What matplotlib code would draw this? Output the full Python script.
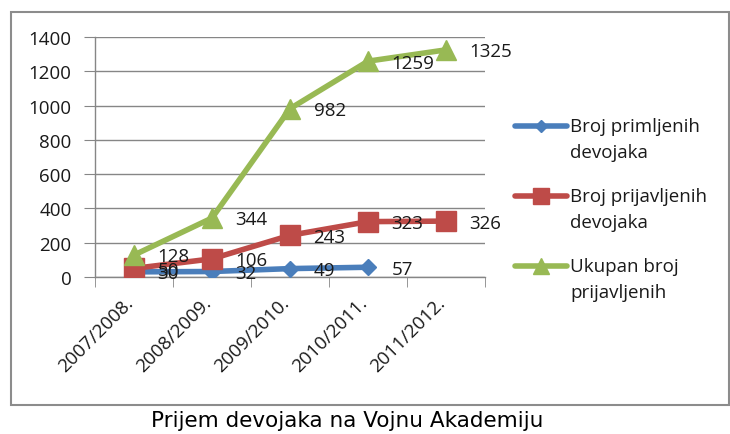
import matplotlib
matplotlib.use("Agg")
import matplotlib.pyplot as plt
import matplotlib.transforms as mtransforms
from matplotlib.lines import Line2D
from matplotlib.patches import Rectangle

plt.rcParams['font.family'] = ['Open Sans', 'DejaVu Sans']

categories = ["2007/2008.", "2008/2009.", "2009/2010.", "2010/2011.", "2011/2012."]
series_names = ["Broj primljenih\ndevojaka", "Broj prijavljenih\ndevojaka", "Ukupan broj\nprijavljenih"]
primljenih = [30, 32, 49, 57]
prijavljenih = [50, 106, 243, 323, 326]
ukupno = [128, 344, 982, 1259, 1325]
yticks = [0, 200, 400, 600, 800, 1000, 1200, 1400]
title = "Prijem devojaka na Vojnu Akademiju"

colors = ["#4a7ebb", "#be4b48", "#98b954"]
markers = ["D", "s", "^"]
msizes = [8, 14, 15]

W, H = 730, 435
fig = plt.figure(figsize=(W / 100, H / 100), dpi=100)

def fx(px):
    return px / W

def fy(py):
    return (H - py) / H

ax = fig.add_axes([fx(95), fy(278), (485 - 95) / W, (278 - 38) / H])

all_series = [primljenih, prijavljenih, ukupno]
for k, vals in enumerate(all_series):
    xs = list(range(len(vals)))
    ax.plot(xs, vals, color=colors[k], lw=4, marker=markers[k], ms=msizes[k],
            mfc=colors[k], mec=colors[k], zorder=3 + k, solid_capstyle='round')
for k, vals in enumerate(all_series):
    for i, v in enumerate(vals):
        ax.annotate(str(v), (i, v), xytext=(17, -1), textcoords='offset points',
                    ha='left', va='center', fontsize=13.5, color='#1a1a1a', zorder=10)

ax.set_xlim(-0.5, len(categories) - 0.5)
ax.set_ylim(0, 1400)
ax.set_yticks(yticks)
ax.set_yticklabels([str(t) for t in yticks], fontsize=13.5, color='#1a1a1a')
ax.set_xticks(range(len(categories)))
ax.set_xticks([i - 0.5 for i in range(len(categories) + 1)], minor=True)
ax.tick_params(axis='x', which='major', length=0, pad=10)
ax.tick_params(axis='x', which='minor', length=7, color='#868686', direction='out')
ax.tick_params(axis='y', length=8, color='#868686', pad=9, direction='out')
ax.set_xticklabels(categories, rotation=45, ha='right', rotation_mode='anchor',
                   fontsize=13.5, color='#1a1a1a')
ax.grid(axis='y', color='#868686', lw=1)
ax.set_axisbelow(True)
for s in ['top', 'right']:
    ax.spines[s].set_visible(False)
for s in ['left', 'bottom']:
    ax.spines[s].set_color('#868686')
    ax.spines[s].set_linewidth(1)

fig.canvas.draw()
shift = mtransforms.ScaledTranslation(-10 / 100, -2 / 100, fig.dpi_scale_trans)
for lab in ax.get_xticklabels():
    lab.set_transform(lab.get_transform() + shift)

# legend
leg_y = [127, 197, 267]
for k, name in enumerate(series_names):
    y = leg_y[k]
    fig.add_artist(Line2D([fx(515), fx(567)], [fy(y), fy(y)], color=colors[k], lw=4,
                          solid_capstyle='round'))
    fig.add_artist(Line2D([fx(541)], [fy(y)], color=colors[k], marker=markers[k],
                          ms=msizes[k] * 0.8, lw=0))
    for j, line in enumerate(name.split("\n")):
        fig.text(fx(570), fy(y + 26 * j), line, ha='left', va='center',
                 fontsize=13.5, color='#1a1a1a')

fig.add_artist(Rectangle((fx(11), fy(406)), fx(729) - fx(11), fy(13) - fy(406),
                         transform=fig.transFigure, fill=False, ec='#8c8c8c', lw=1.5))
fig.text(fx(347), fy(421), title, ha='center', va='center', fontsize=15.5,
         color='black', family='DejaVu Sans')

fig.savefig("out.png", dpi=100)
